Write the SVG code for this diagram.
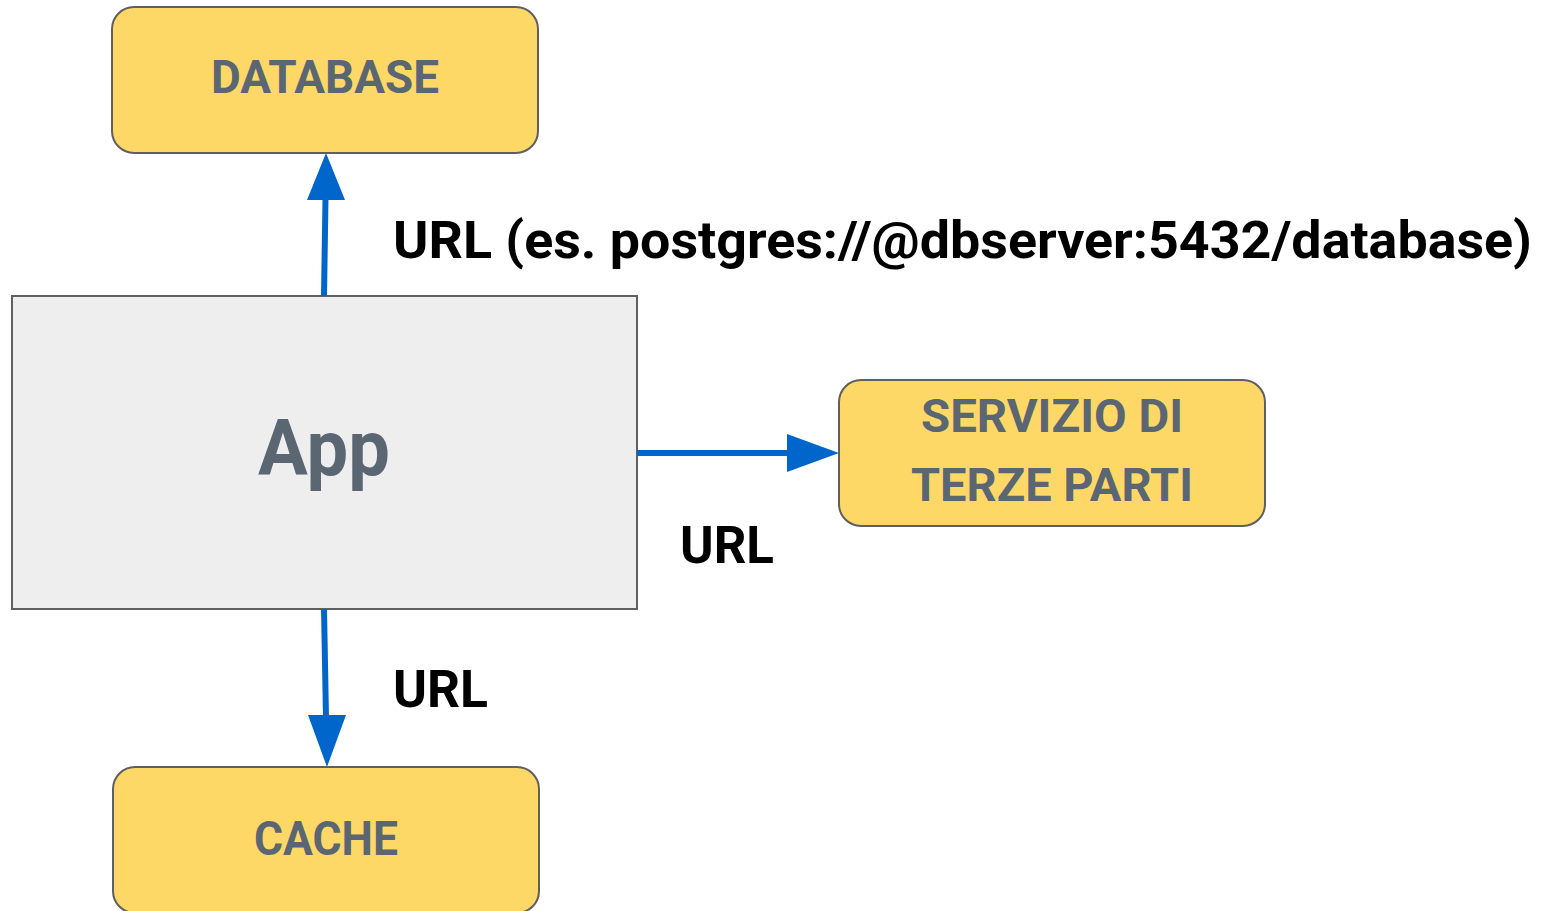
<svg xmlns="http://www.w3.org/2000/svg" width="1555" height="911" viewBox="0 0 1555 911">
<defs>
<style>
.box{fill:#FDD867;stroke:#5f5f5f;stroke-width:2}
.app{fill:#EEEEEE;stroke:#606060;stroke-width:2}
.nt{font-family:Roboto,"Liberation Sans",sans-serif;font-weight:bold;fill:#5B6673;text-anchor:middle}
.lbl{font-family:Roboto,"Liberation Sans",sans-serif;font-weight:bold;fill:#000000}
.edge{stroke:#0066CC;stroke-width:6;fill:none}
.head{fill:#0066CC}
</style>
</defs>
<rect width="1555" height="911" fill="#ffffff"/>
<g id="database">
<rect class="box" x="112" y="7" width="426" height="146" rx="22"/>
<text class="nt" x="325" y="93" font-size="47" textLength="228" lengthAdjust="spacingAndGlyphs">DATABASE</text>
</g>
<g id="app">
<rect class="app" x="12" y="296" width="625" height="313"/>
<text class="nt" x="324" y="475" font-size="77" textLength="132" lengthAdjust="spacingAndGlyphs">App</text>
</g>
<g id="servizio">
<rect class="box" x="839" y="380" width="426" height="146" rx="22"/>
<text class="nt" x="1052" y="432" font-size="46" textLength="262" lengthAdjust="spacingAndGlyphs">SERVIZIO DI</text>
<text class="nt" x="1052" y="501" font-size="46" textLength="282" lengthAdjust="spacingAndGlyphs">TERZE PARTI</text>
</g>
<g id="cache">
<rect class="box" x="113" y="767" width="426" height="146" rx="22"/>
<text class="nt" x="326" y="855" font-size="48" textLength="144" lengthAdjust="spacingAndGlyphs">CACHE</text>
</g>
<g id="connectors">
<line class="edge" x1="324" y1="296" x2="325.5" y2="198"/>
<polygon class="head" points="326,153 345,200 307,200"/>
<line class="edge" x1="637" y1="453" x2="790" y2="453"/>
<polygon class="head" points="839,453 787,434 787,472"/>
<line class="edge" x1="324" y1="609" x2="326" y2="718"/>
<polygon class="head" points="327,767 308,715 346,715"/>
<text class="lbl" x="393" y="258" font-size="52" textLength="1139" lengthAdjust="spacingAndGlyphs">URL (es. postgres://@dbserver:5432/database)</text>
<text class="lbl" x="680" y="563" font-size="52" textLength="94" lengthAdjust="spacingAndGlyphs">URL</text>
<text class="lbl" x="393" y="707" font-size="52" textLength="95" lengthAdjust="spacingAndGlyphs">URL</text>
</g>
</svg>
